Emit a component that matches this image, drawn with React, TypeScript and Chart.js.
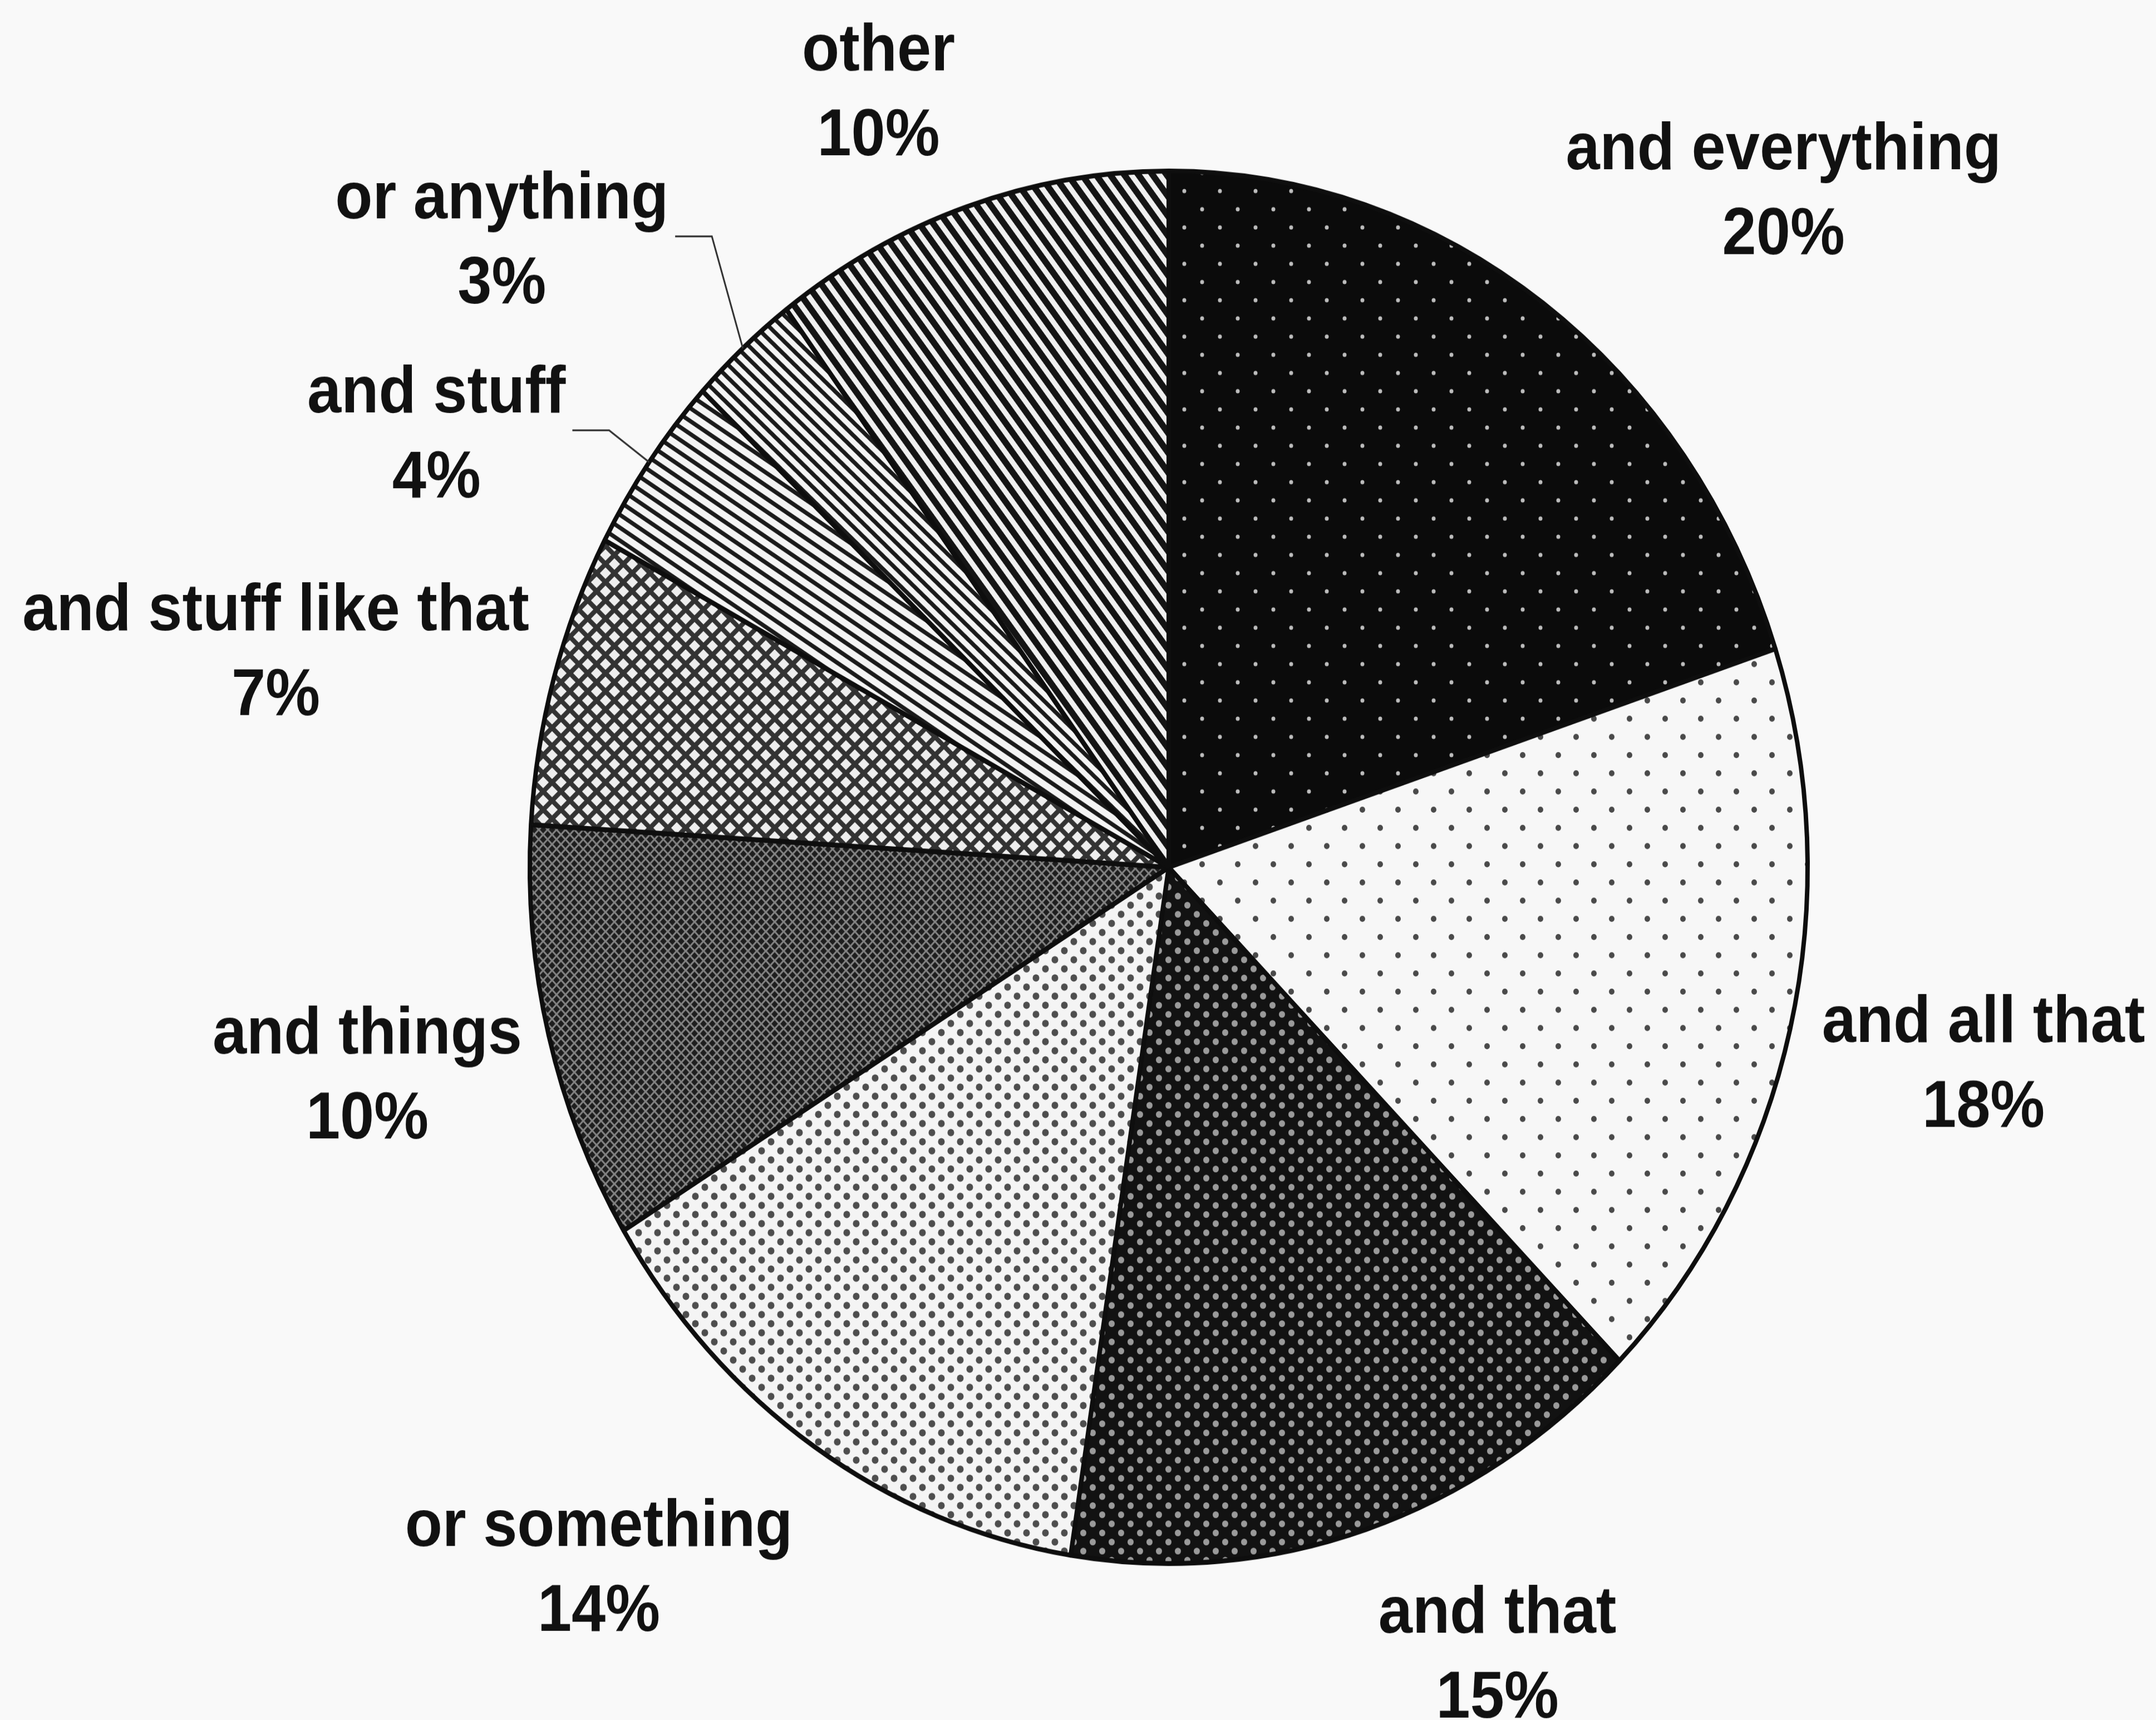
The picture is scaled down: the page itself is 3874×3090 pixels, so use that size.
import React, { useEffect, useRef } from 'react';
import { Chart, registerables } from 'chart.js';

Chart.register(...registerables);

// ---- data ----
const categories = [
  'and everything',
  'and all that',
  'and that',
  'or something',
  'and things',
  'and stuff like that',
  'and stuff',
  'or anything',
  'other',
];
const shares = [19.9, 17.6, 14.9, 13.8, 9.7, 6.8, 4.2, 2.8, 10.2];
const percentLabels = shares.map((v) => `${Math.round(v)}%`);

// ---- styles ----
type PatternSpec =
  | { kind: 'dots'; bg: string; fg: string; w: number; h: number; r: number }
  | { kind: 'cross'; bg: string; fg: string; w: number; h: number; lw: number }
  | { kind: 'stripes'; bg: string; fg: string; period: number; lw: number; angle: number };

const patternSpecs: PatternSpec[] = [
  { kind: 'dots', bg: '#0b0b0b', fg: '#bdbdbd', w: 64, h: 60, r: 3.5 },
  { kind: 'dots', bg: '#f7f7f7', fg: '#4a4a4a', w: 64, h: 60, r: 5 },
  { kind: 'dots', bg: '#121212', fg: '#9a9a9a', w: 34, h: 30, r: 5.5 },
  { kind: 'dots', bg: '#f4f4f4', fg: '#4e4e4e', w: 34, h: 30, r: 6 },
  { kind: 'cross', bg: '#1e1e1e', fg: '#838383', w: 16, h: 16, lw: 3 },
  { kind: 'cross', bg: '#eeeeee', fg: '#333333', w: 32, h: 30, lw: 8 },
  { kind: 'stripes', bg: '#f4f4f4', fg: '#1a1a1a', period: 18, lw: 7, angle: 32 },
  { kind: 'stripes', bg: '#f4f4f4', fg: '#1a1a1a', period: 16, lw: 7, angle: 42 },
  { kind: 'stripes', bg: '#f0f0f0', fg: '#141414', period: 20, lw: 11, angle: 52 },
];

const labelNudges: [number, number][] = [
  [0, -23], [-11, 16], [0, 25], [0, 41], [20, 23], [23, 14], [-93, 71], [-87, -29], [0, 0],
];
const leaderFlags = [false, false, false, false, false, false, true, true, false];

const W = 3874;
const CSS_H = 3090;
const STRETCH = 1.0897;
const H = Math.round(CSS_H / STRETCH);
const CX = 2100;
const CY = 1430;
const R = 1148;
const BW = 8;
const FONT = 110;
const LINE = 140;
const GAP = 70;
const HALF_H = 125;

function makePattern(spec: PatternSpec): CanvasPattern | string {
  const c = document.createElement('canvas');
  if (spec.kind === 'dots') {
    c.width = spec.w;
    c.height = spec.h;
    const g = c.getContext('2d')!;
    g.fillStyle = spec.bg;
    g.fillRect(0, 0, spec.w, spec.h);
    g.fillStyle = spec.fg;
    const pts = [
      [spec.w / 4, spec.h / 4],
      [(3 * spec.w) / 4, (3 * spec.h) / 4],
    ];
    pts.forEach(([x, y]) => {
      g.beginPath();
      g.arc(x, y, spec.r, 0, Math.PI * 2);
      g.fill();
    });
    return g.createPattern(c, 'repeat')!;
  }
  if (spec.kind === 'cross') {
    c.width = spec.w;
    c.height = spec.h;
    const g = c.getContext('2d')!;
    g.fillStyle = spec.bg;
    g.fillRect(0, 0, spec.w, spec.h);
    g.strokeStyle = spec.fg;
    g.lineWidth = spec.lw;
    for (const ox of [-spec.w, 0, spec.w]) {
      g.beginPath();
      g.moveTo(ox, 0);
      g.lineTo(ox + spec.w, spec.h);
      g.stroke();
      g.beginPath();
      g.moveTo(ox + spec.w, 0);
      g.lineTo(ox, spec.h);
      g.stroke();
    }
    return g.createPattern(c, 'repeat')!;
  }
  c.width = 8;
  c.height = spec.period;
  const g = c.getContext('2d')!;
  g.fillStyle = spec.bg;
  g.fillRect(0, 0, 8, spec.period);
  g.fillStyle = spec.fg;
  g.fillRect(0, 0, 8, spec.lw);
  const p = g.createPattern(c, 'repeat')!;
  try {
    p.setTransform(new DOMMatrix().rotate(spec.angle));
  } catch (e) {
    /* ignore */
  }
  return p;
}

const backgroundPlugin = {
  id: 'paperBg',
  beforeDraw(chart: any) {
    const ctx = chart.ctx;
    ctx.save();
    ctx.fillStyle = '#f9f9f9';
    ctx.fillRect(0, 0, chart.width, chart.height);
    ctx.restore();
  },
};

const labelPlugin = {
  id: 'pieLabels',
  afterDatasetsDraw(chart: any) {
    const ctx = chart.ctx as CanvasRenderingContext2D;
    const meta = chart.getDatasetMeta(0);
    ctx.save();
    ctx.font = `bold ${FONT}px "Liberation Sans", Arial, sans-serif`;
    ctx.fillStyle = '#111111';
    ctx.textAlign = 'center';
    ctx.textBaseline = 'middle';
    meta.data.forEach((arc: any, i: number) => {
      const { x, y, startAngle, endAngle, outerRadius } = arc.getProps(
        ['x', 'y', 'startAngle', 'endAngle', 'outerRadius'],
        true
      );
      const mid = (startAngle + endAngle) / 2;
      const c = Math.cos(mid);
      const s = Math.sin(mid);
      const w = Math.max(
        ctx.measureText(categories[i]).width,
        ctx.measureText(percentLabels[i]).width
      );
      const hw = w / 2;
      const ar = outerRadius + GAP;
      const [nx, ny] = labelNudges[i];
      const lx = x + ar * c + Math.sign(c) * hw + nx;
      const ly = y + ar * s + s * HALF_H + ny;
      ctx.fillText(categories[i], lx, ly - LINE / 2);
      ctx.fillText(percentLabels[i], lx, ly + LINE / 2);
      if (leaderFlags[i]) {
        const ex = x + outerRadius * c;
        const ey = y + outerRadius * s;
        ctx.strokeStyle = '#333333';
        ctx.lineWidth = 3;
        ctx.beginPath();
        ctx.moveTo(lx + hw + 12, ly - 10);
        ctx.lineTo(lx + hw + 78, ly - 10);
        ctx.lineTo(ex, ey);
        ctx.stroke();
      }
    });
    ctx.restore();
  },
};

export default function App() {
  const ref = useRef<HTMLCanvasElement | null>(null);
  useEffect(() => {
    if (!ref.current) return;
    const left = CX - R - BW / 2;
    const top = CY - R - BW / 2;
    const size = 2 * R + BW;
    const chart = new Chart(ref.current, {
      type: 'pie',
      data: {
        labels: categories,
        datasets: [
          {
            data: shares,
            backgroundColor: patternSpecs.map(makePattern) as any,
            borderColor: '#0e0e0e',
            borderWidth: BW,
            hoverOffset: 0,
          },
        ],
      },
      options: {
        responsive: false,
        animation: false,
        devicePixelRatio: 1,
        layout: {
          padding: { left, top, right: W - left - size, bottom: H - top - size },
        },
        plugins: {
          legend: { display: false },
          tooltip: { enabled: false },
        },
      },
      plugins: [backgroundPlugin, labelPlugin],
    });
    return () => chart.destroy();
  }, []);
  return (
    <div style={{ position: 'fixed', left: 0, top: 0, width: W, height: CSS_H, background: '#f9f9f9' }}>
      <canvas
        ref={ref}
        width={W}
        height={H}
        style={{ width: `${W}px`, height: `${CSS_H}px`, display: 'block' }}
      />
    </div>
  );
}
